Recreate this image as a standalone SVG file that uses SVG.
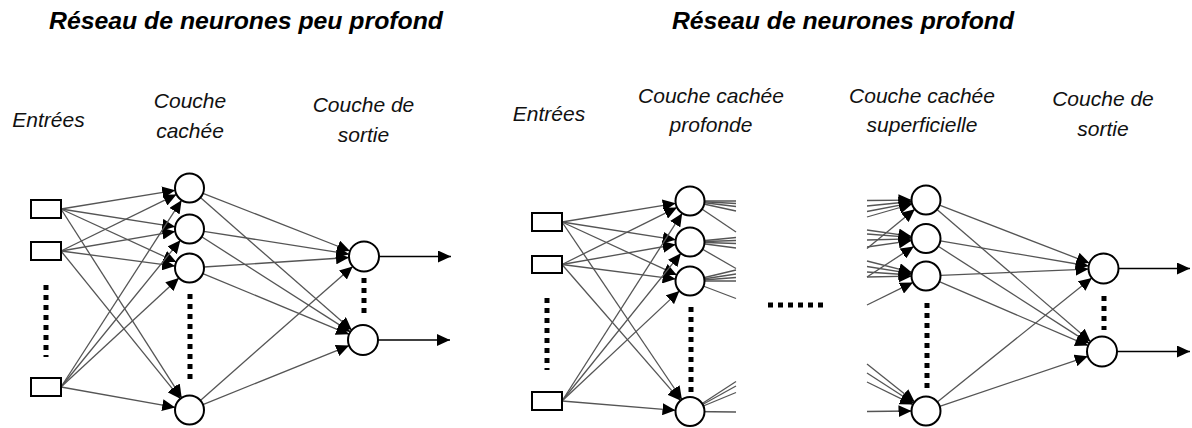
<svg xmlns="http://www.w3.org/2000/svg" width="1192" height="428" viewBox="0 0 1192 428">
<defs>
<marker id="ah" markerUnits="userSpaceOnUse" markerWidth="13" markerHeight="12" viewBox="0 0 13 12" refX="13" refY="6" orient="auto">
<path d="M0,0 L13,6 L0,12 z" fill="#000"/>
</marker>
</defs>
<style>
.title{font-family:"Liberation Sans",Arial,sans-serif;font-weight:bold;font-style:italic;font-size:23px;fill:#000}
.lbl{font-family:"Liberation Sans",Arial,sans-serif;font-style:italic;font-size:21px;fill:#111;text-anchor:middle}
.e{stroke:#555;stroke-width:1.3;fill:none}
.a{marker-end:url(#ah)}
.o{stroke:#000;stroke-width:1.3;fill:none;marker-end:url(#ah)}
.dots{stroke:#000;stroke-width:5;stroke-dasharray:5 5;fill:none}
.n{fill:#fff;stroke:#000;stroke-width:2}
</style>
<rect width="1192" height="428" fill="#fff"/>

<g id="titles">
<text class="title" x="49" y="29" textLength="394" lengthAdjust="spacingAndGlyphs">Réseau de neurones peu profond</text>
<text class="title" x="672" y="29" textLength="342" lengthAdjust="spacingAndGlyphs">Réseau de neurones profond</text>
</g>

<g id="labels">
<text class="lbl" x="48.5" y="127">Entrées</text>
<text class="lbl" x="190" y="108">Couche</text>
<text class="lbl" x="190" y="138">cachée</text>
<text class="lbl" x="363.5" y="112">Couche de</text>
<text class="lbl" x="363.5" y="142">sortie</text>
<text class="lbl" x="549" y="121">Entrées</text>
<text class="lbl" x="711" y="103">Couche cachée</text>
<text class="lbl" x="711" y="132">profonde</text>
<text class="lbl" x="922" y="103">Couche cachée</text>
<text class="lbl" x="922" y="132">superficielle</text>
<text class="lbl" x="1103" y="106">Couche de</text>
<text class="lbl" x="1103" y="136">sortie</text>
</g>

<g id="connectors">
<line class="e a" x1="61" y1="209" x2="175.2" y2="190.3"/>
<line class="e a" x1="61" y1="209" x2="175.2" y2="226.8"/>
<line class="e a" x1="61" y1="209" x2="176.3" y2="262.0"/>
<line class="e a" x1="61" y1="209" x2="181.7" y2="397.8"/>
<line class="e a" x1="61" y1="251" x2="176.5" y2="194.4"/>
<line class="e a" x1="61" y1="251" x2="175.2" y2="231.4"/>
<line class="e a" x1="61" y1="251" x2="175.1" y2="266.1"/>
<line class="e a" x1="61" y1="251" x2="180.4" y2="398.7"/>
<line class="e a" x1="61" y1="387" x2="181.6" y2="200.2"/>
<line class="e a" x1="61" y1="387" x2="180.4" y2="240.3"/>
<line class="e a" x1="61" y1="387" x2="178.9" y2="277.9"/>
<line class="e a" x1="61" y1="387" x2="175.2" y2="407.4"/>
<line class="e a" x1="203.0" y1="193.3" x2="350.0" y2="251.0"/>
<line class="e a" x1="200.4" y1="197.6" x2="351.7" y2="330.1"/>
<line class="e a" x1="203.8" y1="231.3" x2="349.2" y2="254.2"/>
<line class="e a" x1="201.7" y1="236.8" x2="350.4" y2="331.9"/>
<line class="e a" x1="204" y1="267.0" x2="349.0" y2="257.5"/>
<line class="e a" x1="202.9" y1="273.6" x2="349.1" y2="334.3"/>
<line class="e a" x1="200.4" y1="400.4" x2="352.7" y2="266.4"/>
<line class="e a" x1="202.9" y1="404.6" x2="349.1" y2="345.6"/>
<line class="o" x1="379" y1="256.5" x2="451" y2="256.5"/>
<line class="o" x1="378" y1="340" x2="450" y2="340"/>

<line class="e a" x1="562" y1="222" x2="675.7" y2="203.3"/>
<line class="e a" x1="562" y1="222" x2="675.7" y2="239.8"/>
<line class="e a" x1="562" y1="222" x2="676.8" y2="274.9"/>
<line class="e a" x1="562" y1="222" x2="681.9" y2="399.5"/>
<line class="e a" x1="562" y1="264.5" x2="677.0" y2="207.4"/>
<line class="e a" x1="562" y1="264.5" x2="675.7" y2="244.5"/>
<line class="e a" x1="562" y1="264.5" x2="675.6" y2="279.1"/>
<line class="e a" x1="562" y1="264.5" x2="680.5" y2="400.6"/>
<line class="e a" x1="562" y1="401" x2="682.2" y2="213.2"/>
<line class="e a" x1="562" y1="401" x2="680.9" y2="253.3"/>
<line class="e a" x1="562" y1="401" x2="679.4" y2="290.9"/>
<line class="e a" x1="562" y1="401" x2="675.5" y2="410.3"/>
<line class="e" x1="690" y1="201" x2="736" y2="201"/>
<line class="e" x1="690" y1="201" x2="736" y2="203.5"/>
<line class="e" x1="690" y1="201" x2="736" y2="206.5"/>
<line class="e" x1="690" y1="201" x2="736" y2="211"/>
<line class="e" x1="690" y1="201" x2="736" y2="232"/>
<line class="e" x1="690" y1="242" x2="736" y2="237.5"/>
<line class="e" x1="690" y1="242" x2="736" y2="240.5"/>
<line class="e" x1="690" y1="242" x2="736" y2="243.5"/>
<line class="e" x1="690" y1="242" x2="736" y2="248"/>
<line class="e" x1="690" y1="242" x2="736" y2="268.5"/>
<line class="e" x1="690" y1="281" x2="736" y2="270"/>
<line class="e" x1="690" y1="281" x2="736" y2="274"/>
<line class="e" x1="690" y1="281" x2="736" y2="277.5"/>
<line class="e" x1="690" y1="281" x2="736" y2="281"/>
<line class="e" x1="690" y1="281" x2="736" y2="298.5"/>
<line class="e" x1="690" y1="411.5" x2="736" y2="381.5"/>
<line class="e" x1="690" y1="411.5" x2="736" y2="386"/>
<line class="e" x1="690" y1="411.5" x2="736" y2="392.5"/>
<line class="e" x1="690" y1="411.5" x2="736" y2="412"/>
<line class="e a" x1="867" y1="200.5" x2="911.5" y2="200.1"/>
<line class="e a" x1="867" y1="206" x2="911.6" y2="201.5"/>
<line class="e a" x1="867" y1="211.5" x2="911.8" y2="202.8"/>
<line class="e a" x1="867" y1="217" x2="912.1" y2="204.0"/>
<line class="e a" x1="867" y1="248.5" x2="914.8" y2="209.2"/>
<line class="e a" x1="867" y1="230" x2="911.6" y2="236.4"/>
<line class="e a" x1="867" y1="234" x2="911.5" y2="237.4"/>
<line class="e a" x1="867" y1="240" x2="911.5" y2="238.9"/>
<line class="e a" x1="867" y1="247" x2="911.6" y2="240.6"/>
<line class="e a" x1="867" y1="277" x2="913.8" y2="246.4"/>
<line class="e a" x1="867" y1="261" x2="911.9" y2="272.4"/>
<line class="e a" x1="867" y1="266.5" x2="911.7" y2="273.7"/>
<line class="e a" x1="867" y1="272" x2="911.5" y2="275.0"/>
<line class="e a" x1="867" y1="277" x2="911.5" y2="276.2"/>
<line class="e a" x1="867" y1="305" x2="913.0" y2="282.4"/>
<line class="e a" x1="867" y1="364" x2="914.7" y2="402.0"/>
<line class="e a" x1="867" y1="373" x2="913.8" y2="403.2"/>
<line class="e a" x1="867" y1="382" x2="913.0" y2="404.6"/>
<line class="e a" x1="867" y1="411.5" x2="911.5" y2="411.0"/>
<line class="e a" x1="939.5" y1="205.2" x2="1089.5" y2="263.1"/>
<line class="e a" x1="937.0" y1="209.5" x2="1090.6" y2="341.7"/>
<line class="e a" x1="940.3" y1="240.9" x2="1088.7" y2="266.0"/>
<line class="e a" x1="938.2" y1="246.3" x2="1089.4" y2="343.4"/>
<line class="e a" x1="940.5" y1="275.4" x2="1088.5" y2="269.1"/>
<line class="e a" x1="939.3" y1="281.7" x2="1088.2" y2="345.6"/>
<line class="e a" x1="937.3" y1="401.9" x2="1091.8" y2="277.9"/>
<line class="e a" x1="939.7" y1="406.4" x2="1087.8" y2="356.3"/>
<line class="o" x1="1118.5" y1="268.5" x2="1190" y2="268.5"/>
<line class="o" x1="1117" y1="351.5" x2="1190" y2="351.5"/>
</g>

<g id="ellipsis">
<line class="dots" x1="46" y1="285" x2="46" y2="357"/>
<line class="dots" x1="190" y1="294" x2="190" y2="380"/>
<line class="dots" x1="364" y1="278" x2="364" y2="313"/>
<line class="dots" x1="547" y1="298" x2="547" y2="370"/>
<line class="dots" x1="691" y1="307" x2="691" y2="392"/>
<line class="dots" x1="768" y1="305" x2="823" y2="305"/>
<line class="dots" x1="927" y1="303" x2="927" y2="388"/>
<line class="dots" x1="1104" y1="296" x2="1104" y2="330"/>
</g>

<g id="shallow-in1"><rect class="n" x="31" y="200" width="30" height="18"/></g>
<g id="shallow-in2"><rect class="n" x="31" y="242" width="30" height="18"/></g>
<g id="shallow-in3"><rect class="n" x="31" y="378" width="30" height="18"/></g>
<g id="shallow-h1"><circle class="n" cx="189.5" cy="188" r="14.5"/></g>
<g id="shallow-h2"><circle class="n" cx="189.5" cy="229" r="14.5"/></g>
<g id="shallow-h3"><circle class="n" cx="189.5" cy="268" r="14.5"/></g>
<g id="shallow-h4"><circle class="n" cx="189.5" cy="410" r="14.5"/></g>
<g id="shallow-o1"><circle class="n" cx="364" cy="256.5" r="15"/></g>
<g id="shallow-o2"><circle class="n" cx="363" cy="340" r="15"/></g>

<g id="deep-in1"><rect class="n" x="532" y="213" width="30" height="18"/></g>
<g id="deep-in2"><rect class="n" x="532" y="256" width="30" height="17"/></g>
<g id="deep-in3"><rect class="n" x="532" y="392" width="30" height="18"/></g>
<g id="deep-d1"><circle class="n" cx="690" cy="201" r="14.5"/></g>
<g id="deep-d2"><circle class="n" cx="690" cy="242" r="14.5"/></g>
<g id="deep-d3"><circle class="n" cx="690" cy="281" r="14.5"/></g>
<g id="deep-d4"><circle class="n" cx="690" cy="411.5" r="14.5"/></g>
<g id="deep-s1"><circle class="n" cx="926" cy="200" r="14.5"/></g>
<g id="deep-s2"><circle class="n" cx="926" cy="238.5" r="14.5"/></g>
<g id="deep-s3"><circle class="n" cx="926" cy="276" r="14.5"/></g>
<g id="deep-s4"><circle class="n" cx="926" cy="411" r="14.5"/></g>
<g id="deep-o1"><circle class="n" cx="1103.5" cy="268.5" r="15"/></g>
<g id="deep-o2"><circle class="n" cx="1102" cy="351.5" r="15"/></g>
</svg>
